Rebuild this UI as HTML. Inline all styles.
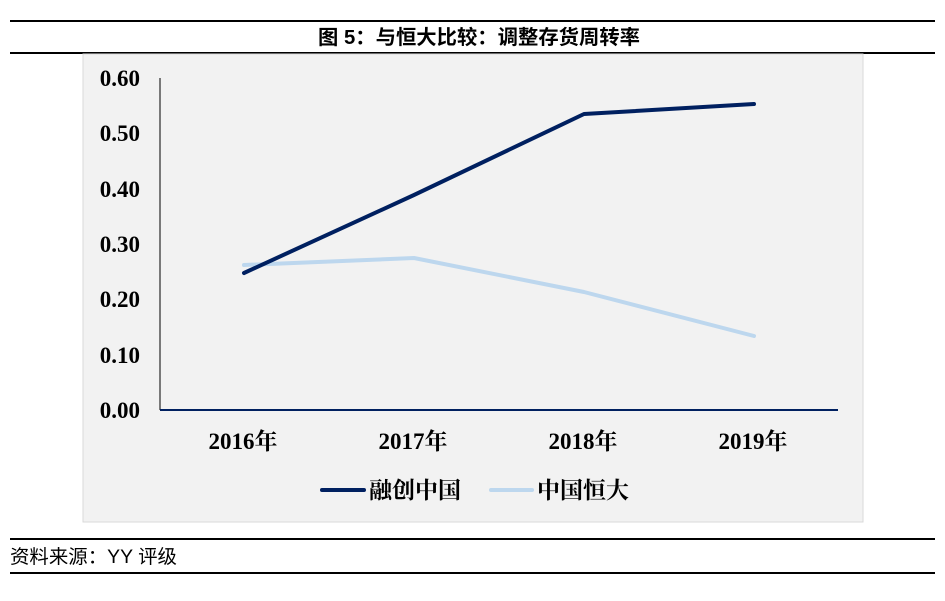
<!DOCTYPE html>
<html><head><meta charset="utf-8"><style>
body{margin:0;background:#fff;width:945px;height:596px;overflow:hidden;font-family:"Liberation Sans","Noto Sans CJK SC",sans-serif}
</style></head><body>
<svg width="945" height="596" xmlns="http://www.w3.org/2000/svg">
<line x1="10" y1="21" x2="935" y2="21" stroke="#000" stroke-width="2"/>
<text x="479" y="44" text-anchor="middle" font-size="20" font-weight="bold" font-family="Liberation Sans,Noto Sans CJK SC,sans-serif" textLength="322" lengthAdjust="spacingAndGlyphs">图 5：与恒大比较：调整存货周转率</text>
<line x1="10" y1="53" x2="935" y2="53" stroke="#000" stroke-width="2"/>
<rect x="83" y="54" width="780" height="468" fill="#f2f2f2" stroke="#d9d9d9"/>
<g font-family="Liberation Serif,Noto Serif CJK SC,serif" font-weight="bold" font-size="23" text-anchor="end">
<text x="140" y="86">0.60</text><text x="140" y="141">0.50</text><text x="140" y="197">0.40</text>
<text x="140" y="252">0.30</text><text x="140" y="307">0.20</text><text x="140" y="363">0.10</text><text x="140" y="418">0.00</text>
</g>
<line x1="160" y1="78" x2="160" y2="410" stroke="#000" stroke-width="1"/>
<line x1="160" y1="410" x2="838" y2="410" stroke="#002060" stroke-width="2"/>
<g font-family="Liberation Serif,Noto Serif CJK SC,serif" font-weight="bold" font-size="23" text-anchor="middle">
<text x="243" y="449">2016年</text><text x="413" y="449">2017年</text><text x="583" y="449">2018年</text><text x="753" y="449">2019年</text>
</g>
<polyline points="244,265 414,258 584,292 754,336" fill="none" stroke="#bdd7ee" stroke-width="4" stroke-linecap="round" stroke-linejoin="round"/>
<polyline points="244,273 414,195 584,114 754,104" fill="none" stroke="#002060" stroke-width="4" stroke-linecap="round" stroke-linejoin="round"/>
<line x1="322" y1="490" x2="364" y2="490" stroke="#002060" stroke-width="4" stroke-linecap="round"/>
<text x="369" y="498" font-size="23" font-weight="bold" font-family="Noto Serif CJK SC,serif">融创中国</text>
<line x1="491" y1="490" x2="532" y2="490" stroke="#bdd7ee" stroke-width="4" stroke-linecap="round"/>
<text x="537" y="498" font-size="23" font-weight="bold" font-family="Noto Serif CJK SC,serif">中国恒大</text>
<line x1="10" y1="539" x2="935" y2="539" stroke="#000" stroke-width="2"/>
<text x="10" y="563" font-size="19" font-family="Liberation Sans,Noto Sans CJK SC,sans-serif" textLength="167" lengthAdjust="spacingAndGlyphs">资料来源：YY 评级</text>
<line x1="10" y1="573" x2="935" y2="573" stroke="#000" stroke-width="2"/>
</svg>
</body></html>
